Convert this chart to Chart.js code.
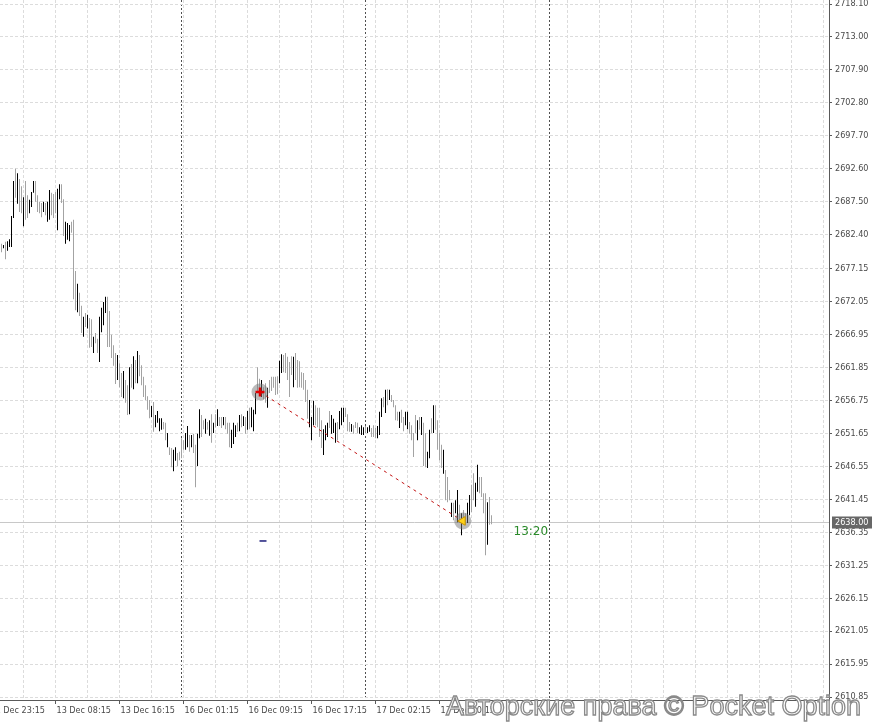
<!DOCTYPE html>
<html>
<head>
<meta charset="utf-8">
<title>XAUUSD M15</title>
<script src="https://cdn.jsdelivr.net/npm/chart.js@4.4.1/dist/chart.umd.min.js"></script>
<style>
  html, body { margin: 0; padding: 0; background: #fff; }
  #wrap { position: relative; width: 872px; height: 722px; overflow: hidden; }
  #watermark {
    position: absolute; left: 446px; top: 690px;
    font: 27px 'Liberation Sans', Arial, sans-serif; line-height: 32px;
    color: #fff; -webkit-text-stroke: 1.3px #8a8a8a; white-space: nowrap;
  }
</style>
</head>
<body>
<div id="wrap">
  <canvas id="price-chart" width="872" height="722"></canvas>
  <div id="watermark">Авторские права © Pocket Option</div>
</div>
<script>
// M15 bars, one per slot
const highs = [
  2681.0, 2680.8, 2681.3, 2681.4, 2681.7, 2685.3, 2690.7, 2692.6, 2691.9, 2691.0,
  2689.9, 2688.2, 2690.7, 2688.5, 2687.8, 2689.0, 2690.7, 2690.7, 2688.5, 2687.5,
  2687.3, 2687.5, 2687.3, 2687.5, 2689.3, 2688.9, 2688.7, 2689.0, 2689.5, 2690.2,
  2690.2, 2687.9, 2684.4, 2684.2, 2683.9, 2684.4, 2684.7, 2676.8, 2674.8, 2673.4,
  2671.4, 2669.7, 2670.3, 2670.0, 2669.5, 2669.3, 2666.6, 2667.2, 2666.3, 2669.7,
  2671.1, 2672.0, 2672.8, 2672.8, 2670.6, 2666.9, 2665.3, 2664.1, 2663.8, 2662.5,
  2661.0, 2661.3, 2659.9, 2659.1, 2661.9, 2662.4, 2663.6, 2663.0, 2664.4, 2663.8,
  2662.2, 2660.4, 2659.1, 2657.4, 2656.8, 2655.9, 2656.5, 2654.5, 2655.1, 2654.0,
  2654.0, 2653.4, 2653.3, 2651.7, 2649.5, 2649.4, 2649.1, 2649.5, 2648.6, 2648.8,
  2650.9, 2650.6, 2651.7, 2652.8, 2651.4, 2651.4, 2651.6, 2649.9, 2651.6, 2655.4,
  2654.5, 2653.7, 2653.9, 2653.4, 2653.7, 2654.6, 2653.3, 2654.6, 2655.4, 2654.2,
  2654.2, 2654.2, 2654.2, 2653.3, 2653.3, 2652.2, 2653.3, 2652.9, 2653.3, 2654.5,
  2654.6, 2654.3, 2654.2, 2655.1, 2655.6, 2655.7, 2655.3, 2657.9, 2661.9, 2660.1,
  2659.9, 2658.8, 2659.4, 2658.7, 2659.9, 2660.4, 2660.4, 2660.4, 2660.5, 2662.9,
  2663.9, 2663.8, 2664.1, 2663.5, 2662.7, 2663.6, 2663.5, 2664.1, 2663.0, 2662.8,
  2661.1, 2661.0, 2659.9, 2658.4, 2656.8, 2654.2, 2656.7, 2656.0, 2655.6, 2655.6,
  2653.7, 2652.3, 2652.9, 2653.3, 2655.1, 2654.5, 2653.9, 2653.3, 2653.4, 2655.1,
  2655.6, 2655.6, 2655.6, 2654.6, 2653.4, 2653.1, 2652.9, 2653.4, 2653.3, 2652.6,
  2652.9, 2652.6, 2652.8, 2652.6, 2652.9, 2652.5, 2652.9, 2652.5, 2652.8, 2655.0,
  2657.1, 2657.3, 2658.4, 2658.5, 2658.4, 2657.6, 2656.8, 2656.0, 2655.0, 2655.0,
  2655.3, 2654.2, 2655.0, 2655.0, 2653.4, 2652.9, 2651.7, 2654.5, 2653.7, 2654.2,
  2654.2, 2653.3, 2651.7, 2648.8, 2652.2, 2654.0, 2656.0, 2656.0, 2653.7, 2651.7,
  2649.9, 2649.1, 2646.0, 2644.9, 2642.9, 2640.9, 2640.9, 2641.3, 2642.9, 2640.6,
  2639.3, 2639.8, 2639.3, 2640.9, 2642.1, 2643.7, 2645.5, 2644.0, 2646.8, 2644.9,
  2644.9, 2642.4, 2642.4, 2641.0, 2641.8, 2639.0
];
const lows = [
  2679.7, 2680.3, 2678.6, 2679.9, 2680.5, 2680.5, 2685.0, 2688.1, 2687.2, 2685.9,
  2685.7, 2683.7, 2684.7, 2685.0, 2685.7, 2686.7, 2688.9, 2687.5, 2685.9, 2685.7,
  2685.1, 2685.9, 2685.4, 2684.4, 2684.7, 2685.4, 2685.0, 2685.7, 2683.1, 2687.9,
  2687.3, 2682.2, 2681.0, 2681.6, 2681.4, 2682.7, 2672.4, 2670.7, 2670.4, 2669.8,
  2667.2, 2666.6, 2668.1, 2667.9, 2664.9, 2665.0, 2664.1, 2665.6, 2664.1, 2662.7,
  2667.3, 2668.4, 2670.3, 2665.0, 2665.0, 2663.3, 2662.1, 2659.3, 2659.9, 2658.8,
  2657.3, 2657.1, 2656.4, 2654.5, 2654.6, 2658.7, 2658.5, 2659.4, 2659.4, 2660.5,
  2659.1, 2657.3, 2656.8, 2655.3, 2654.0, 2654.2, 2651.9, 2652.6, 2653.3, 2652.0,
  2652.2, 2652.3, 2650.6, 2649.5, 2648.3, 2646.4, 2645.8, 2647.4, 2646.6, 2647.5,
  2647.8, 2649.1, 2649.1, 2649.5, 2648.8, 2649.5, 2648.6, 2643.3, 2646.6, 2650.9,
  2651.1, 2652.3, 2651.6, 2652.2, 2651.3, 2650.2, 2651.7, 2652.6, 2652.8, 2652.8,
  2652.5, 2652.9, 2652.3, 2651.6, 2649.5, 2649.4, 2650.0, 2651.1, 2651.9, 2652.0,
  2652.6, 2652.8, 2651.6, 2652.2, 2652.3, 2652.6, 2652.0, 2654.6, 2657.9, 2657.6,
  2657.3, 2656.9, 2656.4, 2655.6, 2657.9, 2658.2, 2658.7, 2657.6, 2657.7, 2659.4,
  2661.0, 2661.1, 2661.0, 2659.9, 2657.3, 2660.7, 2658.8, 2659.9, 2658.7, 2658.8,
  2658.7, 2658.4, 2656.5, 2653.9, 2652.6, 2650.6, 2652.9, 2652.9, 2652.6, 2651.1,
  2649.4, 2648.3, 2650.6, 2651.1, 2652.5, 2651.6, 2651.7, 2650.2, 2650.6, 2652.3,
  2652.9, 2653.4, 2654.2, 2652.0, 2651.9, 2651.9, 2651.6, 2652.5, 2651.7, 2651.6,
  2651.4, 2651.4, 2651.7, 2651.7, 2651.9, 2651.1, 2651.1, 2650.9, 2650.9, 2651.4,
  2654.2, 2655.7, 2654.8, 2656.0, 2656.8, 2656.5, 2655.7, 2653.7, 2653.6, 2652.5,
  2653.3, 2652.0, 2652.9, 2652.3, 2651.6, 2650.6, 2648.0, 2651.7, 2650.6, 2652.2,
  2651.4, 2646.6, 2646.4, 2646.3, 2647.8, 2651.7, 2651.7, 2652.2, 2649.1, 2647.5,
  2646.3, 2645.4, 2641.3, 2641.0, 2641.3, 2638.7, 2638.2, 2639.3, 2637.9, 2637.8,
  2635.9, 2638.2, 2637.5, 2637.8, 2639.0, 2639.5, 2641.3, 2640.3, 2642.6, 2642.4,
  2641.8, 2639.3, 2632.8, 2634.4, 2637.5, 2637.6
];
// 1 = black bar, 0 = grey bar
const dark = [
  0,1,0,1,1,1,1,0,1,0, 0,1,0,0,1,1,1,0,0,0, 0,1,0,1,1,0,0,0,1,1, 0,0,1,1,1,0,0,0,1,0,
  0,1,0,1,0,0,1,0,0,1, 1,1,1,0,0,0,0,0,1,0, 0,1,0,0,1,0,1,0,1,0, 0,0,0,0,0,1,0,1,1,1,
  1,0,0,1,0,0,1,1,0,0, 0,0,1,1,0,1,0,0,1,1, 0,0,1,0,1,0,1,0,1,0, 0,1,0,0,0,1,1,1,0,1,
  0,1,0,1,0,1,1,1,0,0, 1,0,0,1,0,0,0,0,0,1, 1,0,0,0,0,0,1,0,0,0, 0,0,0,0,1,1,1,0,0,0,
  0,1,1,1,0,1,1,1,0,1, 1,1,0,0,0,1,0,0,0,1, 1,1,0,1,1,0,0,0,1,1, 1,0,1,0,1,0,0,0,0,1,
  0,0,1,1,0,0,0,0,1,0, 1,0,0,1,1,0,1,0,0,0, 0,1,0,0,0,1,0,1,1,0, 1,0,0,1,1,0,0,1,1,0,
  0,0,0,1,0,0
];

const priceTicks = [
  2718.10, 2713.00, 2707.90, 2702.80, 2697.70, 2692.60, 2687.50, 2682.40, 2677.15, 2672.05, 2666.95,
  2661.85, 2656.75, 2651.65, 2646.55, 2641.45, 2636.35, 2631.25, 2626.15, 2621.05, 2615.95, 2610.85
];
const timeLabelIdx = [-6, 27, 59, 91, 123, 155, 187, 219];
const timeLabels = ['12 Dec 23:15', '13 Dec 08:15', '13 Dec 16:15', '16 Dec 01:15',
                    '16 Dec 09:15', '16 Dec 17:15', '17 Dec 02:15', '17 Dec 10:15'];
const daySeparators = [90, 182, 274];

const tradeIdx = [129.25, 230.6];
const tradePrice = [2658.05, 2638.1];
const orderMark = { x: 130.75, y: 2635.0 };
const lastPrice = 2638.00;
const countdown = '13:20';

const FONT = "'DejaVu Sans Condensed', 'Liberation Sans', sans-serif";
const AXIS_COLOR = '#5a5a5a';
const TEXT_COLOR = '#4a4a4a';

// light grid every 16 bars, plus labels and day separators
const gridIdx = [];
for (let i = 11; i < 414; i += 16) gridIdx.push(i);
const xTicks = [...new Set([...timeLabelIdx, ...gridIdx, ...daySeparators])].sort((a, b) => a - b);

const isSep = v => daySeparators.includes(v);
const isLabel = v => timeLabelIdx.includes(v);

const priceLine = {
  id: 'priceLine',
  beforeDatasetsDraw(chart) {
    const { ctx, chartArea: a, scales: { y } } = chart;
    const py = Math.round(y.getPixelForValue(lastPrice)) + 0.5;
    ctx.save();
    ctx.strokeStyle = '#c8c8c8';
    ctx.lineWidth = 1;
    ctx.beginPath();
    ctx.moveTo(a.left, py);
    ctx.lineTo(a.right, py);
    ctx.stroke();
    ctx.restore();
  },
  afterDraw(chart) {
    const { ctx, chartArea: a, scales: { x, y } } = chart;
    const py = Math.round(y.getPixelForValue(lastPrice)) + 0.5;
    ctx.save();
    ctx.fillStyle = '#676767';
    ctx.fillRect(a.right + 3, py - 6, chart.width - a.right - 3, 12);
    ctx.fillStyle = '#ffffff';
    ctx.font = '9px ' + FONT;
    ctx.textAlign = 'left';
    ctx.textBaseline = 'middle';
    ctx.fillText(lastPrice.toFixed(2), a.right + 6, py);

    ctx.fillStyle = '#2a8a2a';
    ctx.font = "12px 'DejaVu Sans', sans-serif";
    ctx.fillText(countdown, x.getPixelForValue(highs.length - 1) + 22, py + 9);
    ctx.restore();
  }
};

new Chart(document.getElementById('price-chart'), {
  data: {
    datasets: [
      {
        type: 'bar',
        data: highs.map((h, i) => ({ x: i, y: [lows[i], h] })),
        backgroundColor: dark.map(d => d ? '#000000' : '#a3a3a3'),
        barThickness: 1,
        borderWidth: 0,
        inflateAmount: 0,
        order: 4
      },
      {
        type: 'line',
        data: tradeIdx.map((v, i) => ({ x: v, y: tradePrice[i] })),
        borderColor: '#c21414',
        borderWidth: 1,
        borderDash: [3, 4],
        pointRadius: 8.5,
        pointBackgroundColor: 'rgba(120, 120, 120, 0.5)',
        pointBorderWidth: 0,
        order: 2
      },
      {
        type: 'line',
        showLine: false,
        data: tradeIdx.map((v, i) => ({ x: v, y: tradePrice[i] })),
        pointStyle: ['cross', 'triangle'],
        rotation: [0, -90],
        pointRadius: [4.5, 5],
        pointBorderColor: ['#e00000', '#c99400'],
        pointBackgroundColor: ['#e00000', '#ffd21a'],
        pointBorderWidth: [2.5, 1],
        order: 1
      },
      {
        type: 'line',
        showLine: false,
        data: [orderMark],
        pointStyle: 'line',
        pointRadius: 3.5,
        pointBorderColor: '#1c1c7a',
        pointBorderWidth: 1.5,
        order: 1
      }
    ]
  },
  options: {
    responsive: false,
    animation: false,
    events: [],
    layout: { padding: 0, autoPadding: false },
    scales: {
      x: {
        type: 'linear',
        position: 'bottom',
        offset: false,
        min: -0.75,
        max: 413.75,
        afterBuildTicks: s => { s.ticks = xTicks.map(v => ({ value: v })); },
        afterFit: s => { s.height = 22; s.paddingLeft = 0; s.paddingRight = 0; },
        ticks: {
          autoSkip: false,
          maxRotation: 0,
          minRotation: 0,
          align: 'start',
          labelOffset: 1,
          padding: 1,
          color: TEXT_COLOR,
          font: { family: FONT, size: 9 },
          callback: v => isLabel(v) ? timeLabels[timeLabelIdx.indexOf(v)] : ''
        },
        grid: {
          offset: false,
          color: c => {
            if (!c.tick) return '#dcdcdc';
            if (isSep(c.tick.value)) return '#505050';
            if (c.tick.value < 0) return 'rgba(0,0,0,0)';
            return '#dcdcdc';
          },
          tickColor: c => (c.tick && isLabel(c.tick.value)) ? AXIS_COLOR : 'rgba(0,0,0,0)',
          tickLength: 4
        },
        border: {
          color: AXIS_COLOR,
          dash: c => (c.tick && isSep(c.tick.value)) ? [2, 2] : [3, 2]
        }
      },
      y: {
        position: 'right',
        min: 2610.39,
        max: 2718.72,
        afterBuildTicks: s => { s.ticks = priceTicks.map(v => ({ value: v })); },
        afterFit: s => { s.width = 43; s.paddingTop = 0; s.paddingBottom = 0; },
        ticks: {
          padding: 3,
          color: TEXT_COLOR,
          font: { family: FONT, size: 9 },
          callback: v => v.toFixed(2)
        },
        grid: { color: '#dcdcdc', tickColor: AXIS_COLOR, tickLength: 3 },
        border: { color: AXIS_COLOR, dash: [3, 2] }
      }
    },
    plugins: {
      legend: { display: false },
      tooltip: { enabled: false }
    }
  },
  plugins: [priceLine]
});
</script>
</body>
</html>
